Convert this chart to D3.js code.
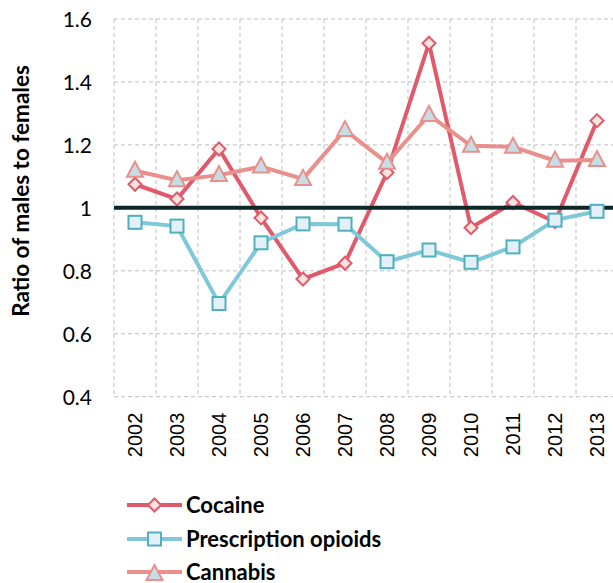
<!DOCTYPE html>
<html>
<head>
<meta charset="utf-8">
<script src="https://cdn.jsdelivr.net/npm/d3@7"></script>
<style>
body { margin: 0; background: #fff; }
svg { display: block; }
</style>
</head>
<body>
<div id="chart"></div>
<script>
var years = ['2002','2003','2004','2005','2006','2007','2008','2009','2010','2011','2012','2013']
var cocaine  = [1.075, 1.028, 1.187, 0.968, 0.774, 0.824, 1.112, 1.523, 0.937, 1.017, 0.956, 1.277]
var opioids  = [0.954, 0.942, 0.696, 0.889, 0.949, 0.948, 0.829, 0.866, 0.827, 0.876, 0.961, 0.989]
var cannabis = [1.118, 1.088, 1.104, 1.131, 1.092, 1.247, 1.143, 1.295, 1.197, 1.194, 1.150, 1.152]
var yTicks = [0.4, 0.6, 0.8, 1, 1.2, 1.4, 1.6]
var seriesNames = ['Cocaine', 'Prescription opioids', 'Cannabis']

var W = 613, H = 583
var plotL = 114, plotT = 19, plotW = 504, plotH = 377.7

var svg = d3.select('#chart').append('svg')
            .attr('width', W)
            .attr('height', H)

var x = d3.scaleBand().domain(years).range([plotL, plotL + plotW])
var y = d3.scaleLinear().domain([0.4, 1.6]).range([plotT + plotH, plotT])

// grid
var grid = svg.append('g').attr('class','grid')
	.style('stroke','#bfbfbf').style('stroke-width',1).style('stroke-dasharray','4,3')
yTicks.forEach(t=>{
	grid.append('line').attr('x1',plotL).attr('x2',plotL+plotW).attr('y1',y(t)).attr('y2',y(t))
})
years.concat(['end']).forEach((e,i)=>{
	var xx = plotL + i*x.bandwidth()
	grid.append('line').attr('x1',xx).attr('x2',xx).attr('y1',plotT).attr('y2',plotT+plotH)
})

// y axis labels
var yAxis = svg.append('g')
	.attr('transform','translate(' + (plotL - 22) + ',0)')
	.call(d3.axisLeft(y).tickValues(yTicks).tickSize(0).tickFormat(d3.format('')))
yAxis.select('.domain').remove()
yAxis.selectAll('text')
	.attr('x', 0).attr('dy','0.35em')
	.style('font-family','Lato, sans-serif').style('font-size','21px').style('fill','#000')

// x axis labels
var xAxis = svg.append('g')
	.attr('transform','translate(0,' + (plotT + plotH + 16) + ')')
	.call(d3.axisBottom(x).tickSize(0))
xAxis.select('.domain').remove()
xAxis.selectAll('text')
	.attr('transform','rotate(-90)')
	.attr('x', 0).attr('y', 0).attr('dy','0.35em')
	.style('text-anchor','end')
	.style('font-family','"Liberation Sans", Arial, sans-serif').style('font-size','20px').style('fill','#000')

// y title
svg.append('text')
	.attr('transform','translate(29,191) rotate(-90)')
	.attr('text-anchor','middle')
	.style('font-family','Lato, sans-serif').style('font-weight','bold').style('font-size','22.5px')
	.text('Ratio of males to females')

var line = d3.line().x((d,i)=>x(years[i]) + x.bandwidth()/2).y(d=>y(d))
var cx = i => x(years[i]) + x.bandwidth()/2

var styles = [
	{ line:'#e05a6b', fill:'#fbe3df', stroke:'#e05a6b', shape:'diamond' },
	{ line:'#7ec8d9', fill:'#e3f0f7', stroke:'#4fb0c0', shape:'square' },
	{ line:'#e98f8c', fill:'#c6dee3', stroke:'#e98f8c', shape:'triangle' }
]

function marker(g, shape, px, py, s){
	if (shape === 'diamond')
		g.append('path').attr('d','M'+px+','+(py-6.5)+'L'+(px+6.5)+','+py+'L'+px+','+(py+6.5)+'L'+(px-6.5)+','+py+'Z')
	if (shape === 'square')
		g.append('rect').attr('x',px-6.5).attr('y',py-6.5).attr('width',13).attr('height',13)
	if (shape === 'triangle')
		g.append('path').attr('d','M'+px+','+(py-9)+'L'+(px+8)+','+(py+6)+'L'+(px-8)+','+(py+6)+'Z')
	g.selectAll('*').style('fill',s.fill).style('stroke',s.stroke).style('stroke-width',2)
}

function drawSeries(values, s){
	var g = svg.append('g')
	g.append('path').datum(values).attr('d',line)
	 .style('fill','none').style('stroke',s.line).style('stroke-width',4)
	values.forEach((v,i)=>{
		marker(g.append('g'), s.shape, cx(i), y(v), s)
	})
}

drawSeries(cocaine, styles[0])

// reference line at 1
svg.append('line')
	.attr('x1',plotL).attr('x2',W).attr('y1',y(1)).attr('y2',y(1))
	.style('stroke','#0d2626').style('stroke-width',4)

drawSeries(opioids, styles[1])
drawSeries(cannabis, styles[2])

// legend
var legendY = [505, 539, 572]
seriesNames.forEach((name,i)=>{
	var g = svg.append('g').attr('transform','translate(0,' + legendY[i] + ')')
	g.append('line').attr('x1',127).attr('x2',182).attr('y1',0).attr('y2',0)
	 .style('stroke',styles[i].line).style('stroke-width',4)
	marker(g.append('g'), styles[i].shape, 154.5, i === 2 ? 2 : 0, styles[i])
	g.append('text').attr('x',186).attr('y',0).attr('dy','0.35em')
	 .style('font-family','Lato, sans-serif').style('font-weight','bold').style('font-size','22px')
	 .text(name)
})
</script>
</body>
</html>
